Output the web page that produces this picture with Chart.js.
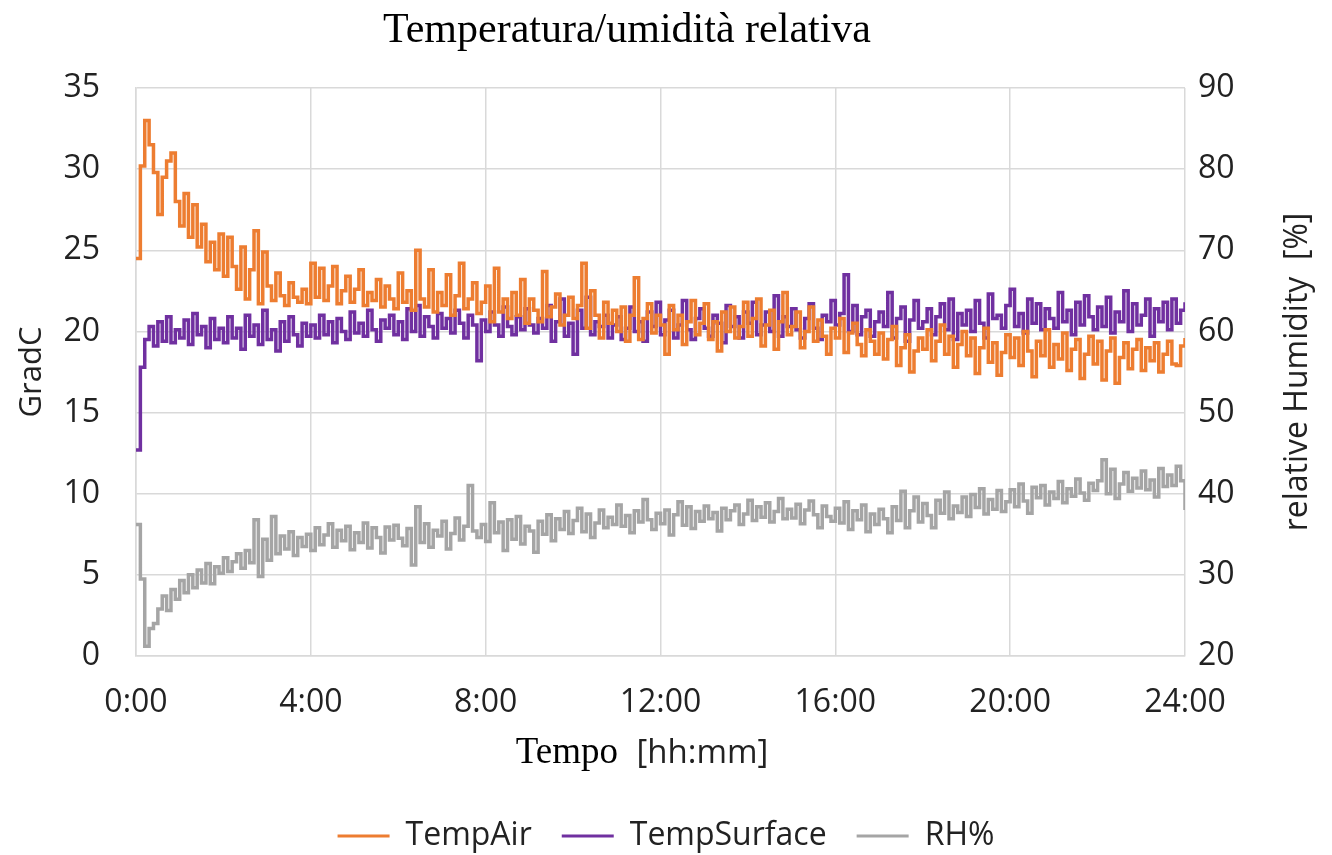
<!DOCTYPE html>
<html>
<head>
<meta charset="utf-8">
<script src="https://cdn.jsdelivr.net/npm/chart.js@4.4.1/dist/chart.umd.min.js"></script>
<style>
  html, body { margin: 0; padding: 0; background: #fff; overflow: hidden; }
  #wrap { width: 1332px; height: 862px; }
</style>
</head>
<body>
<div id="wrap"><canvas id="c"></canvas></div>
<script>
// sampling step of the series, hours
var STEP = 0.1;
var xTicks = ['0:00', '4:00', '8:00', '12:00', '16:00', '20:00', '24:00'];
var seriesNames = ['TempAir', 'TempSurface', 'RH%'];

// TempAir [GradC], one row per hour, last value at 24:00
var tempAir = [
  24.5, 30.2, 33.0, 31.5, 29.8, 27.2, 29.5, 30.5, 31.0, 28.0,
  26.5, 28.5, 25.8, 27.8, 25.2, 26.6, 24.3, 25.5, 23.8, 26.0,
  23.4, 25.8, 24.0, 22.6, 25.2, 22.0, 23.8, 26.2, 21.7, 24.9,
  22.8, 21.9, 23.6, 22.2, 21.6, 23.0, 22.1, 21.8, 22.6, 21.7,
  24.2, 22.1, 23.9, 21.9, 22.8, 24.0, 21.7, 22.5, 23.4, 21.8,
  22.6, 23.8, 21.6, 22.4, 21.9, 23.2, 21.5, 22.8, 22.0, 21.4,
  23.6, 21.8, 22.5, 21.3, 25.0, 22.0, 21.5, 23.8, 21.2, 22.4,
  21.6, 23.5, 21.0, 22.2, 24.2, 21.4, 22.0, 23.0, 21.1, 21.8,
  22.8, 20.6, 23.9, 21.2, 22.0, 20.8, 22.4, 21.0, 23.2, 20.5,
  22.0, 21.3, 20.6, 23.7, 20.9, 21.5, 22.3, 20.4, 21.0, 22.1,
  20.8, 21.6, 24.2, 20.2, 22.5, 21.0, 19.6, 21.8, 20.5, 21.3,
  20.0, 21.5, 19.4, 21.0, 23.3, 19.5, 20.8, 21.7, 19.9, 21.0,
  20.4, 18.6, 21.6, 20.1, 21.0, 19.2, 20.6, 21.9, 19.8, 20.5,
  21.7, 19.5, 20.6, 18.8, 21.2, 20.0, 21.5, 19.6, 20.3, 21.8,
  19.7, 20.8, 22.0, 19.1, 20.4, 21.3, 18.9, 20.6, 22.4, 19.8,
  20.3, 21.2, 19.0, 20.0, 21.5, 19.4, 20.7, 19.7, 18.6, 20.2,
  19.6, 20.8, 18.7, 19.9, 20.5, 19.2, 18.5, 20.1, 19.4, 18.6,
  19.9, 18.3, 19.5, 20.3, 17.9, 19.0, 19.8, 17.5, 18.8, 19.6,
  18.9, 20.1, 18.2, 19.4, 20.4, 18.6, 19.7, 17.8, 19.2, 20.0,
  18.5, 19.6, 17.4, 19.0, 20.2, 18.1, 19.3, 17.3, 18.7, 19.8,
  18.4, 19.6, 17.9, 20.0, 18.8, 17.2, 19.4, 18.5, 20.1, 17.8,
  19.2, 18.3, 19.9, 17.6, 18.9, 19.5, 17.1, 18.6, 19.7, 18.0,
  19.4, 17.0, 18.8, 19.6, 16.8, 18.4, 19.3, 17.7, 18.9, 19.5,
  17.6, 19.0, 18.2, 19.3, 17.5, 18.6, 19.4, 18.0, 17.9, 19.1,
  19.6
];

// TempSurface [GradC]
var tempSurface = [
  12.7, 17.8, 19.5, 20.3, 19.1, 20.6, 19.4, 20.9, 19.3, 20.1,
  19.6, 20.7, 19.2, 21.1, 19.8, 20.3, 19.0, 20.8, 19.5, 20.2,
  19.3, 20.9, 19.6, 20.2, 18.9, 21.0, 19.7, 20.4, 19.2, 21.3,
  19.5, 20.1, 18.8, 20.6, 19.4, 20.9, 19.8, 19.1, 20.5, 19.7,
  20.4, 19.6, 21.0, 19.8, 20.6, 19.3, 20.8, 20.0, 19.5, 21.2,
  19.9, 20.5, 19.7, 21.3, 20.1, 19.4, 20.7, 20.2, 21.0, 19.8,
  20.6, 19.5, 21.4, 20.0, 21.6, 19.7, 20.9, 20.3, 19.6, 21.1,
  20.2, 20.8, 19.9, 21.3, 20.5, 19.6, 21.0, 20.4, 18.2, 20.7,
  20.0, 21.2, 20.4, 19.7, 21.5, 20.3, 19.8, 20.9, 20.1, 21.4,
  20.4, 19.9, 20.8, 20.2, 21.6, 19.4, 20.6, 22.0, 19.7, 20.5,
  18.6, 21.3, 20.2, 22.1, 19.8, 20.6, 20.3, 21.0, 19.6, 20.4,
  20.9, 19.5, 20.2, 21.5, 20.0, 20.6, 19.4, 21.2, 20.3, 21.8,
  19.8, 20.7, 21.3, 19.6, 20.4, 21.9, 20.1, 19.5, 20.8, 21.4,
  20.2, 19.7, 21.0, 20.5, 19.3, 21.6, 20.3, 20.9, 19.6, 21.2,
  20.5, 21.8, 19.8, 20.4, 21.2, 20.0, 22.2, 19.7, 20.9, 20.3,
  21.4, 20.1, 19.6, 20.8, 21.7, 20.2, 19.5, 21.0, 20.6, 21.9,
  20.4, 21.1, 23.5, 20.0, 21.6, 19.8, 20.9, 21.3, 19.7, 20.6,
  21.2, 20.3, 22.4, 19.6, 20.8, 21.5, 19.4, 20.7, 21.9, 20.2,
  20.6, 21.4, 19.8, 20.9, 21.7, 20.1, 22.0, 19.5, 21.1, 20.4,
  21.3, 20.0, 21.9, 20.5, 19.6, 22.3, 20.8, 21.0, 20.2, 21.6,
  22.6, 20.3, 21.1, 19.9, 22.0, 20.5, 21.7, 20.1, 21.4, 20.8,
  20.2, 22.4, 20.6, 21.3, 19.8, 21.8, 20.4, 22.2, 20.9, 20.1,
  21.5, 20.3, 22.1, 19.9, 21.2, 20.6, 22.5, 20.0, 21.7, 20.4,
  21.0, 22.0, 19.7, 21.4, 20.6, 21.8, 20.1, 22.0, 20.5, 21.3,
  21.8
];

// RH [%], right axis
var rh = [
  36.2, 29.5, 21.2, 23.4, 24.0, 25.8, 27.4, 25.6, 28.2, 27.0,
  29.3, 27.8, 30.0, 28.4, 30.6, 29.0, 31.4, 28.9, 31.0, 30.2,
  32.1, 30.4, 31.6, 32.6, 30.8, 33.0, 31.5, 36.8, 29.8, 34.4,
  31.8, 37.2, 32.6, 34.8, 33.2, 35.3, 32.4, 34.6, 33.5, 35.0,
  33.0, 35.8, 33.7, 34.9, 36.3, 33.4, 35.5, 34.2, 36.0, 33.1,
  35.2, 34.0, 36.4, 33.3, 35.8, 34.6, 32.7, 35.9, 34.3, 36.1,
  34.5, 33.6, 35.7, 31.2, 38.4, 34.0, 36.3, 33.4, 35.5, 34.8,
  36.6, 33.2, 35.1, 37.0, 34.3, 36.0, 41.0, 35.4, 34.6, 36.2,
  34.1, 38.9, 35.2, 36.5, 33.0, 36.8, 34.4, 37.2, 33.8, 36.0,
  35.4, 32.8, 36.6, 35.0, 37.4, 34.2, 36.9, 35.6, 37.8, 35.1,
  36.7, 38.2, 35.3, 37.5, 34.6, 36.4, 38.0, 35.8, 37.1, 36.2,
  38.6, 36.0, 37.3, 35.2, 37.9, 36.5, 39.3, 36.8, 35.6, 37.6,
  36.3, 38.0, 34.9, 37.4, 39.0, 36.1, 38.4, 35.7, 37.8, 36.6,
  38.5, 36.9, 37.7, 35.4, 38.2, 36.8, 37.9, 38.6, 36.2, 37.5,
  39.2, 36.7, 38.4, 37.1, 38.9, 36.5, 37.8, 39.4, 36.9, 38.1,
  37.0, 38.7, 36.3, 38.0, 39.1, 37.4, 35.8, 38.5, 37.2, 36.6,
  38.2, 36.4, 39.0, 35.6, 37.9, 36.8, 38.6, 35.3, 37.5, 36.2,
  38.1, 36.9, 35.2, 38.4, 36.7, 40.3, 35.8, 37.9, 39.6, 36.5,
  38.8, 37.3, 35.8, 39.2, 37.6, 40.2, 36.9, 38.5, 37.7, 39.6,
  37.2, 39.9, 38.3, 40.6, 37.5, 39.3, 38.1, 40.4, 37.8, 39.0,
  40.5, 38.4, 41.2, 39.1, 37.6, 40.8, 39.5, 41.0, 38.6, 40.2,
  39.4, 41.5, 38.9, 40.6, 39.7, 41.8, 40.1, 39.2, 41.3, 40.4,
  41.6, 44.2, 40.0, 43.0, 39.4, 41.2, 42.6, 40.3, 41.9, 40.7,
  42.8, 40.5, 41.7, 39.6, 43.1, 40.9, 42.3, 41.0, 43.4, 41.6,
  38.0
];

function toPoints(arr) {
  return arr.map(function (v, i) { return { x: i * STEP, y: v }; });
}

var SANS = "'Open Sans', 'Noto Sans', sans-serif";
var SERIF = "'Liberation Serif', 'Times New Roman', serif";
var GRID = '#d9d9d9';
var TXT = '#222';

// chart title, x axis title (mixed fonts) and right axis title (reads upward)
var textPlugin = {
  id: 'texts',
  afterDraw: function (chart) {
    var ctx = chart.ctx;
    ctx.save();
    ctx.fillStyle = '#000';
    ctx.textBaseline = 'alphabetic';
    ctx.textAlign = 'center';
    ctx.font = '42px ' + SERIF;
    ctx.fillText('Temperatura/umidità relativa', 627, 42);

    var a = 'Tempo  ', b = '[hh:mm]';
    ctx.font = '37px ' + SERIF;
    var wa = ctx.measureText(a).width;
    ctx.font = '33px ' + SANS;
    var wb = ctx.measureText(b).width;
    var x0 = 642 - (wa + wb) / 2;
    ctx.textAlign = 'left';
    ctx.font = '37px ' + SERIF;
    ctx.fillText(a, x0, 763);
    ctx.font = '33px ' + SANS;
    ctx.fillStyle = TXT;
    ctx.fillText(b, x0 + wa, 763);

    var ca = chart.chartArea;
    ctx.translate(1298, (ca.top + ca.bottom) / 2);
    ctx.rotate(-Math.PI / 2);
    ctx.textAlign = 'center';
    ctx.textBaseline = 'middle';
    ctx.font = '32px ' + SANS;
    ctx.fillText('relative Humidity  [%]', 0, 0);
    ctx.restore();
  }
};

new Chart(document.getElementById('c'), {
  type: 'line',
  data: {
    datasets: [
      { label: seriesNames[0], data: toPoints(tempAir), borderColor: '#ED7D31', backgroundColor: '#ED7D31', yAxisID: 'y' },
      { label: seriesNames[1], data: toPoints(tempSurface), borderColor: '#7030A0', backgroundColor: '#7030A0', yAxisID: 'y' },
      { label: seriesNames[2], data: toPoints(rh), borderColor: '#A5A5A5', backgroundColor: '#A5A5A5', yAxisID: 'y1' }
    ]
  },
  options: {
    responsive: true,
    maintainAspectRatio: false,
    animation: false,
    layout: { padding: { top: 88, left: 0, right: 0, bottom: 0 } },
    elements: {
      point: { radius: 0 },
      line: { borderWidth: 3.5, stepped: true, tension: 0 }
    },
    plugins: {
      title: { display: false },
      tooltip: { enabled: false },
      legend: {
        position: 'bottom',
        labels: {
          font: { family: SANS, size: 32 },
          color: TXT,
          boxWidth: 52,
          boxHeight: 3,
          padding: 30,
          generateLabels: function (chart) {
            return chart.data.datasets.map(function (d, i) {
              return { text: d.label, fillStyle: d.borderColor, strokeStyle: d.borderColor,
                       lineWidth: 0, datasetIndex: i, hidden: false, fontColor: TXT };
            });
          }
        }
      }
    },
    scales: {
      x: {
        type: 'linear',
        min: 0, max: 24,
        afterFit: function (s) { s.height = 134; },
        grid: { color: GRID, lineWidth: 1.5, drawTicks: false },
        border: { color: GRID, width: 1.5 },
        ticks: {
          stepSize: 4, padding: 28, color: TXT,
          font: { family: SANS, size: 32 },
          maxRotation: 0,
          callback: function (v) { return xTicks[v / 4]; }
        }
      },
      y: {
        position: 'left',
        min: 0, max: 35,
        afterFit: function (s) { s.width = 136; },
        grid: { color: GRID, lineWidth: 1.5, drawTicks: false },
        border: { color: GRID, width: 1.5 },
        ticks: { stepSize: 5, padding: 36, color: TXT, font: { family: SANS, size: 32 } },
        title: { display: true, text: 'GradC', color: TXT, font: { family: SANS, size: 31 }, padding: { top: 14, bottom: 0 } }
      },
      y1: {
        position: 'right',
        min: 20, max: 90,
        afterFit: function (s) { s.width = 147; },
        grid: { drawOnChartArea: false, drawTicks: false },
        border: { display: false },
        ticks: { stepSize: 10, padding: 13, color: TXT, font: { family: SANS, size: 32 } },
        title: { display: false }
      }
    }
  },
  plugins: [textPlugin]
});
</script>
</body>
</html>
